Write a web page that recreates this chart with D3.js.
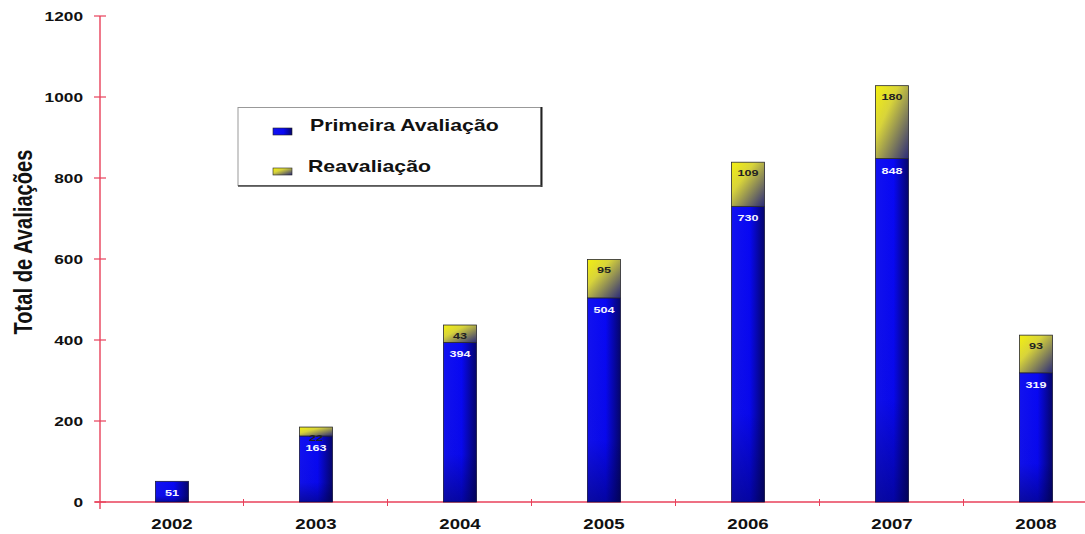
<!DOCTYPE html>
<html>
<head>
<meta charset="utf-8">
<script src="https://cdn.jsdelivr.net/npm/d3@7"></script>
<style>
  html, body { margin: 0; padding: 0; background: #fff; }
  svg { display: block; font-family: "Liberation Sans", Arial, sans-serif; }
</style>
</head>
<body>
<svg id="chart" width="1085" height="534"></svg>
<script>
const years = ["2002", "2003", "2004", "2005", "2006", "2007", "2008"];
const primeira = [51, 163, 394, 504, 730, 848, 319];
const reavaliacao = [0, 22, 43, 95, 109, 180, 93];
const yTicks = [0, 200, 400, 600, 800, 1000, 1200];
const seriesNames = ["Primeira Avaliação", "Reavaliação"];

const svg = d3.select("#chart");
const W = 1085, H = 534;
const m = { left: 100, top: 16, bottom: 32 };
const bandW = 144;

// text in this chart is drawn wide: each glyph gets about 1.33x its normal width
const wide = 1.33;

const x = d3.scaleBand().domain(years)
  .range([m.left, m.left + bandW * years.length]).paddingInner(0.77).paddingOuter(0.385);
const y = d3.scaleLinear().domain([0, 1200]).range([H - m.bottom, m.top]);

const defs = svg.append("defs");
const blue = defs.append("linearGradient").attr("id", "gBlue")
  .attr("x1", 0).attr("y1", 0).attr("x2", 1).attr("y2", 0);
blue.append("stop").attr("offset", "0%").attr("stop-color", "#1212f0");
blue.append("stop").attr("offset", "55%").attr("stop-color", "#0808f4");
blue.append("stop").attr("offset", "100%").attr("stop-color", "#05056a");
const blueV = defs.append("linearGradient").attr("id", "gBlueV")
  .attr("x1", 0).attr("y1", 0).attr("x2", 0).attr("y2", 1);
blueV.append("stop").attr("offset", "0%").attr("stop-color", "#000040").attr("stop-opacity", 0);
blueV.append("stop").attr("offset", "70%").attr("stop-color", "#000040").attr("stop-opacity", 0.05);
blueV.append("stop").attr("offset", "100%").attr("stop-color", "#000040").attr("stop-opacity", 0.45);
const yel = defs.append("linearGradient").attr("id", "gYel")
  .attr("x1", 0).attr("y1", 0).attr("x2", 1).attr("y2", 1);
yel.append("stop").attr("offset", "0%").attr("stop-color", "#f4f010");
yel.append("stop").attr("offset", "35%").attr("stop-color", "#d8d43a");
yel.append("stop").attr("offset", "100%").attr("stop-color", "#2a2a7a");

// stretch a text node horizontally around its anchor point
function wideText(sel, ax, ay, anchor) {
  sel.attr("text-anchor", anchor)
    .attr("transform", `translate(${ax},${ay}) scale(${wide},1)`)
    .attr("x", 0).attr("y", 0);
  return sel;
}

// axes
const axisRed = "#e8405a";
svg.append("line").attr("x1", m.left).attr("x2", m.left)
  .attr("y1", y(1200)).attr("y2", y(0) + 7).attr("stroke", axisRed).attr("stroke-width", 1.4);
svg.append("line").attr("x1", m.left - 5).attr("x2", W)
  .attr("y1", y(0)).attr("y2", y(0)).attr("stroke", axisRed).attr("stroke-width", 1.4);

svg.selectAll(".ytick").data(yTicks).join("line")
  .attr("x1", m.left - 6).attr("x2", m.left + 6)
  .attr("y1", d => y(d)).attr("y2", d => y(d))
  .attr("stroke", axisRed).attr("stroke-width", 1.2);
svg.selectAll(".ylab").data(yTicks).join("text")
  .attr("font-size", 13).attr("font-weight", "bold").attr("fill", "#111")
  .text(d => d)
  .each(function (d) { wideText(d3.select(this), 83, y(d) + 5, "end"); });

// category boundary ticks
svg.selectAll(".xtick").data(years.slice(1)).join("line")
  .attr("x1", d => x(d) - x.step() * x.paddingInner() / 2 - 0.5)
  .attr("x2", d => x(d) - x.step() * x.paddingInner() / 2 - 0.5)
  .attr("y1", y(0) - 3).attr("y2", y(0) + 4)
  .attr("stroke", axisRed).attr("stroke-width", 1);
svg.selectAll(".xlab").data(years).join("text")
  .attr("font-size", 14).attr("font-weight", "bold").attr("fill", "#111")
  .text(d => d)
  .each(function (d) { wideText(d3.select(this), x(d) + x.bandwidth() / 2, 529, "middle"); });

svg.append("text")
  .attr("transform", "translate(32,242) rotate(-90) scale(1,1.35)")
  .attr("text-anchor", "middle").attr("font-size", 18.5).attr("font-weight", "bold")
  .attr("textLength", 185).attr("lengthAdjust", "spacingAndGlyphs")
  .attr("fill", "#111").text("Total de Avaliações");

// bars
const g = svg.append("g");
years.forEach((yr, i) => {
  const bx = x(yr), bw = x.bandwidth();
  const p = primeira[i], r = reavaliacao[i];
  g.append("rect").attr("x", bx).attr("y", y(p)).attr("width", bw).attr("height", y(0) - y(p))
    .attr("fill", "url(#gBlue)").attr("stroke", "#1a1a40").attr("stroke-width", 0.8);
  g.append("rect").attr("x", bx).attr("y", y(p)).attr("width", bw).attr("height", y(0) - y(p))
    .attr("fill", "url(#gBlueV)");
  if (r > 0) {
    g.append("rect").attr("x", bx).attr("y", y(p + r)).attr("width", bw).attr("height", y(p) - y(p + r))
      .attr("fill", "url(#gYel)").attr("stroke", "#2a2a30").attr("stroke-width", 0.8);
    g.append("text").attr("font-size", 9.5).attr("font-weight", "bold")
      .attr("fill", "#222").text(r)
      .call(s => wideText(s, bx + bw / 2, y(p + r) + 14, "middle"));
  }
  g.append("text").attr("font-size", 9.5).attr("font-weight", "bold")
    .attr("fill", "#f4f4ff").text(p)
    .call(s => wideText(s, bx + bw / 2, y(p) + 15, "middle"));
});

// legend
const lg = svg.append("g");
lg.append("rect").attr("x", 238).attr("y", 107.5).attr("width", 303).attr("height", 78)
  .attr("fill", "#fff").attr("stroke", "#999").attr("stroke-width", 1);
lg.append("line").attr("x1", 541.5).attr("x2", 541.5).attr("y1", 107).attr("y2", 187)
  .attr("stroke", "#222").attr("stroke-width", 2);
lg.append("line").attr("x1", 238).attr("x2", 542).attr("y1", 186).attr("y2", 186)
  .attr("stroke", "#444").attr("stroke-width", 1.5);
const fills = ["url(#gBlue)", "url(#gYel)"];
const swY = [128, 168];
const legBase = [131, 172];
const legTX = [310, 308];
seriesNames.forEach((n, i) => {
  lg.append("rect").attr("x", 273).attr("y", swY[i]).attr("width", 19).attr("height", 7)
    .attr("fill", fills[i]).attr("stroke", "#222").attr("stroke-width", 0.6);
  lg.append("text").attr("font-size", 16).attr("font-weight", "bold").attr("fill", "#111").text(n)
    .call(s => wideText(s, legTX[i], legBase[i], "start"));
});
</script>
</body>
</html>
